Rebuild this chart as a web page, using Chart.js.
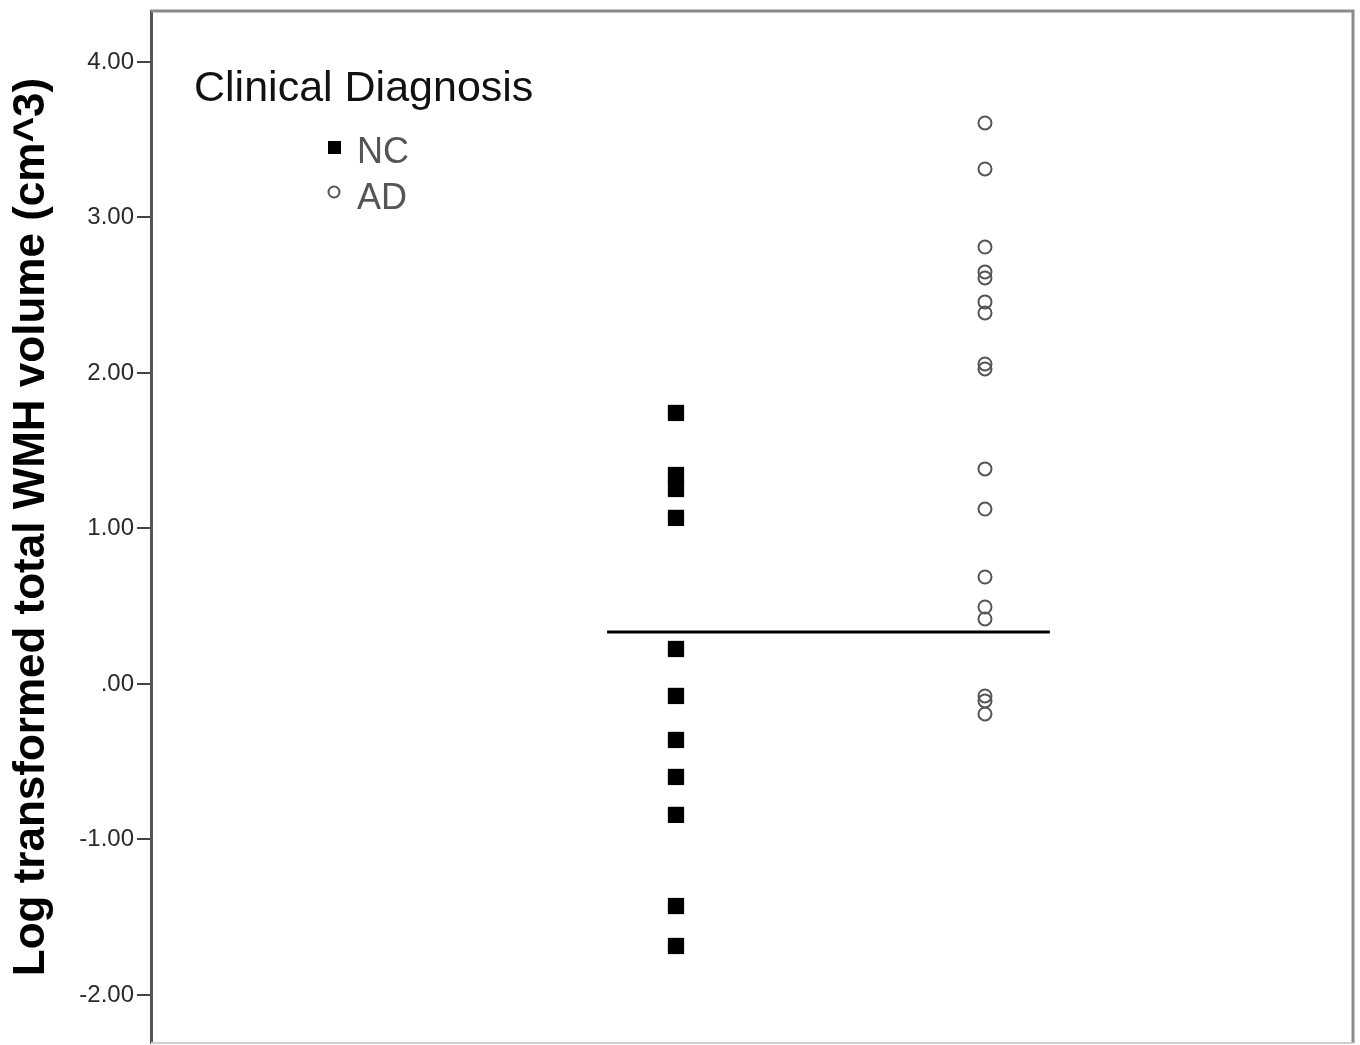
<!DOCTYPE html>
<html>
<head>
<meta charset="utf-8">
<script src="https://cdn.jsdelivr.net/npm/chart.js@4/dist/chart.umd.min.js"></script>
<style>
  html, body { margin: 0; padding: 0; background: #fff; }
  #wrap { width: 1360px; height: 1045px; position: relative; }
</style>
</head>
<body>
<div id="wrap"><canvas id="c" width="1360" height="1045"></canvas></div>
<script>
// ---- data ----
const categories = ['NC', 'AD'];
const groupPositions = [1, 2];
const ncValues = [1.743, 1.344, 1.254, 1.068, 0.225, -0.077, -0.360, -0.598, -0.842, -1.428, -1.685];
const adValues = [3.608, 3.312, 2.810, 2.650, 2.611, 2.457, 2.386, 2.058, 2.026, 1.383, 1.125, 0.688, 0.495, 0.418, -0.077, -0.109, -0.193];
const referenceLineValue = 0.334;
const tickValues = [-2, -1, 0, 1, 2, 3, 4];
const tickLabels = ['-2.00', '-1.00', '.00', '1.00', '2.00', '3.00', '4.00'];
const legendTitle = 'Clinical Diagnosis';
const yAxisTitle = 'Log transformed total WMH volume (cm^3)';

const FONT = '"Liberation Sans", Arial, sans-serif';

const legendPlugin = {
  id: 'innerLegend',
  afterDraw(chart) {
    const ctx = chart.ctx;
    ctx.save();
    ctx.textAlign = 'left';
    ctx.textBaseline = 'alphabetic';
    ctx.fillStyle = '#111';
    ctx.font = '43px ' + FONT;
    ctx.fillText(legendTitle, 194, 101);
    // NC marker
    ctx.fillStyle = '#000';
    ctx.fillRect(328, 141, 13, 13);
    // AD marker
    ctx.beginPath();
    ctx.arc(334, 192, 5.5, 0, Math.PI * 2);
    ctx.strokeStyle = '#555';
    ctx.lineWidth = 2;
    ctx.stroke();
    ctx.fillStyle = '#555';
    ctx.font = '36px ' + FONT;
    ctx.fillText(categories[0], 357, 163);
    ctx.fillText(categories[1], 357, 209);
    ctx.restore();
  },
  beforeDatasetsDraw(chart) {
    const {ctx, chartArea: a} = chart;
    ctx.save();
    ctx.strokeStyle = '#8a8a8a';
    ctx.lineWidth = 3;
    ctx.beginPath();
    ctx.moveTo(a.left, a.top);
    ctx.lineTo(a.right, a.top);
    ctx.lineTo(a.right, a.bottom);
    ctx.stroke();
    ctx.strokeStyle = '#cfcfcf';
    ctx.lineWidth = 2;
    ctx.beginPath();
    ctx.moveTo(a.left, a.bottom);
    ctx.lineTo(a.right, a.bottom);
    ctx.stroke();
    ctx.restore();
  }
};

new Chart(document.getElementById('c'), {
  type: 'scatter',
  data: {
    datasets: [
      {
        label: categories[0],
        data: ncValues.map(v => ({x: groupPositions[0], y: v})),
        pointStyle: 'rect',
        pointRadius: 11.5,
        backgroundColor: '#000',
        borderColor: '#000',
        borderWidth: 0
      },
      {
        label: categories[1],
        data: adValues.map(v => ({x: groupPositions[1], y: v})),
        pointStyle: 'circle',
        pointRadius: 6.5,
        backgroundColor: 'rgba(255,255,255,0)',
        borderColor: '#555',
        borderWidth: 2
      },
      {
        type: 'line',
        label: 'ref',
        data: [{x: groupPositions[0] - 0.223, y: referenceLineValue}, {x: groupPositions[1] + 0.21, y: referenceLineValue}],
        borderColor: '#000',
        borderWidth: 3,
        pointRadius: 0,
        fill: false
      }
    ]
  },
  options: {
    responsive: false,
    animation: false,
    devicePixelRatio: 1,
    layout: { autoPadding: false, padding: { left: 0, top: 11, right: 7, bottom: 2 } },
    plugins: {
      legend: { display: false },
      tooltip: { enabled: false }
    },
    scales: {
      x: {
        type: 'linear',
        display: false,
        min: -0.699,
        max: 3.191
      },
      y: {
        type: 'linear',
        min: -2.309,
        max: 4.328,
        afterFit(scale) {
          scale.width = 151;
          scale.paddingTop = 0;
          scale.paddingBottom = 0;
        },
        afterBuildTicks(scale) { scale.ticks = tickValues.map(v => ({value: v})); },
        border: { display: true, color: '#555', width: 3 },
        grid: { drawOnChartArea: false, drawTicks: true, tickLength: 14, color: '#444', lineWidth: 2 },
        ticks: {
          padding: 3,
          color: '#2a2a2a',
          font: { family: FONT, size: 24 },
          callback(value) { const i = tickValues.indexOf(value); return i >= 0 ? tickLabels[i] : null; }
        },
        title: {
          display: true,
          text: yAxisTitle,
          color: '#000',
          font: { family: FONT, size: 44, weight: 'bold', lineHeight: 1 },
          padding: { top: 10, bottom: 0 }
        }
      }
    }
  },
  plugins: [legendPlugin]
});
</script>
</body>
</html>
